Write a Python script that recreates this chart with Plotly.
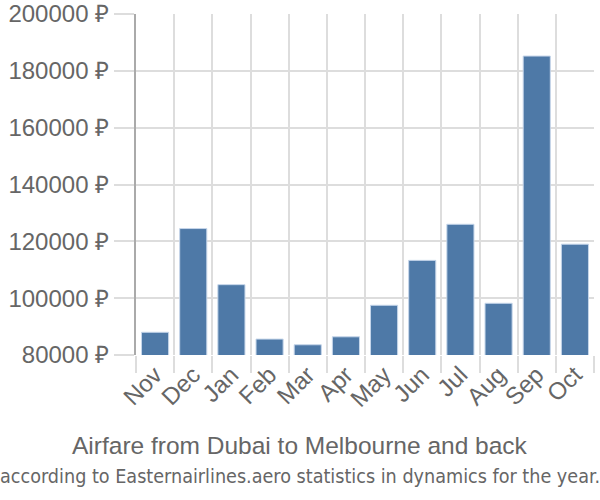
import plotly.graph_objects as go

months = ["Nov", "Dec", "Jan", "Feb", "Mar", "Apr", "May", "Jun", "Jul", "Aug", "Sep", "Oct"]
prices = [88000, 124500, 104750, 85600, 83600, 86400, 97500, 113300, 126000, 98200, 185200, 119000]
y_ticks = [80000, 100000, 120000, 140000, 160000, 180000, 200000]
y_tick_text = [f"{v} ₽" for v in y_ticks]
title_line1 = "Airfare from Dubai to Melbourne and back"
title_line2 = "according to Easternairlines.aero statistics in dynamics for the year."

fig = go.Figure()
fig.add_trace(go.Bar(
    x=months, y=prices,
    marker=dict(color="#4e79a7", line=dict(color="#c6d6ea", width=1)),
    width=0.71,
))

fig.update_layout(
    width=600, height=500,
    margin=dict(l=136, r=6, t=14, b=145, autoexpand=False),
    paper_bgcolor="white", plot_bgcolor="white",
    font=dict(family="Liberation Sans, Arial, sans-serif", color="#666666", size=24),
    showlegend=False,
    annotations=[
        dict(text=title_line1, xref="paper", yref="paper", x=0.5, xanchor="center",
             y=-0.266, yanchor="middle", showarrow=False,
             font=dict(size=24.5, color="#666666"), xshift=-65),
        dict(text=title_line2, xref="paper", yref="paper", x=0.5, xanchor="center",
             y=-0.355, yanchor="middle", showarrow=False,
             font=dict(family="DejaVu Sans Condensed, Liberation Sans, sans-serif",
                       size=19.6, color="#666666"), xshift=-65),
    ],
)

fig.update_xaxes(
    type="category",
    automargin=False,
    tickangle=-45,
    tickson="boundaries",
    ticks="outside", ticklen=17, tickcolor="#dddddd", tickwidth=2,
    showgrid=True, gridcolor="#dddddd", gridwidth=2,
    showline=False,
    tickfont=dict(size=24, color="#666666"),
)
fig.update_yaxes(
    automargin=False,
    range=[80000, 200000],
    tickmode="array",
    tickvals=y_ticks,
    ticktext=y_tick_text,
    ticks="outside", ticklen=20, tickcolor="#dddddd", tickwidth=2,
    showgrid=True, gridcolor="#dddddd", gridwidth=2,
    showline=True, linecolor="#aaaaaa", linewidth=2,
    zeroline=False,
    tickfont=dict(size=24, color="#666666"),
)

fig.write_html("out.html", config={"displayModeBar": False},
               post_script="document.body.style.margin='0';")
